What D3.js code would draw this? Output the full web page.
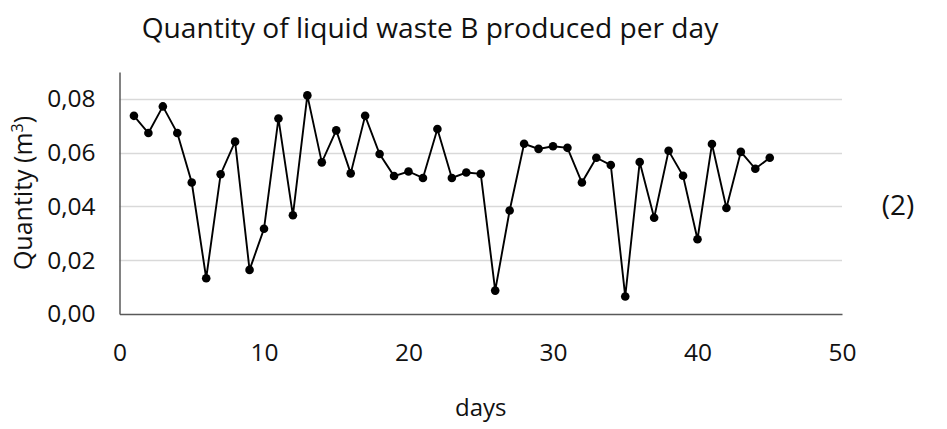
<!DOCTYPE html>
<html>
<head>
<meta charset="utf-8">
<script src="https://cdn.jsdelivr.net/npm/d3@7"></script>
<style>
    body { margin: 0; background: #fff; }
    text { font-family: "Open Sans", "Noto Sans", sans-serif; fill: #111; }
</style>
</head>
<body>
<svg id="chart" width="947" height="429"></svg>
<script>
// days 1..45
const days = d3.range(1, 46);
const quantities = [
    0.0737, 0.0673, 0.0772, 0.0673, 0.0489, 0.0133, 0.0520, 0.0641, 0.0164, 0.0317,
    0.0727, 0.0367, 0.0813, 0.0564, 0.0683, 0.0523, 0.0737, 0.0595, 0.0513, 0.0530,
    0.0506, 0.0688, 0.0506, 0.0526, 0.0521, 0.0087, 0.0385, 0.0633, 0.0614, 0.0624,
    0.0618, 0.0489, 0.0581, 0.0554, 0.0065, 0.0565, 0.0358, 0.0607, 0.0514, 0.0278,
    0.0632, 0.0394, 0.0603, 0.0540, 0.0581
];
const xTicks = [0, 10, 20, 30, 40, 50];
const yTicks = [0, 0.02, 0.04, 0.06, 0.08];

const svg = d3.select('#chart');
const plot = { left: 119.5, right: 842, top: 72, bottom: 314 };

const x = d3.scaleLinear().domain([0, 50]).range([plot.left, plot.right]);
const y = d3.scaleLinear().domain([0, 0.09]).range([plot.bottom, plot.top]);

// horizontal gridlines
svg.append('g')
    .selectAll('line')
    .data(yTicks.filter(d => d > 0))
    .enter()
    .append('line')
    .attr('x1', plot.left)
    .attr('x2', plot.right)
    .attr('y1', d => Math.round(y(d)) + 0.5)
    .attr('y2', d => Math.round(y(d)) + 0.5)
    .attr('stroke', '#d9d9d9')
    .attr('stroke-width', 1.3);

// axes
const xAxis = svg.append('g')
    .attr('transform', `translate(0,${plot.bottom})`)
    .call(d3.axisBottom(x).tickValues(xTicks).tickSize(0).tickPadding(30));
const yAxis = svg.append('g')
    .attr('transform', `translate(${plot.left},0)`)
    .call(d3.axisLeft(y).tickValues(yTicks).tickSize(0).tickPadding(24)
        .tickFormat(d => d3.format('.2f')(d).replace('.', ',')));

yAxis.select('.domain').attr('stroke', '#595959').attr('stroke-width', 1.5);
xAxis.select('.domain').attr('stroke', '#595959').attr('stroke-width', 1.5);
[xAxis, yAxis].forEach(g => g.selectAll('text')
    .style('font-family', '"Open Sans", sans-serif')
    .style('font-size', '24.5px')
    .attr('fill', '#111'));
xAxis.selectAll('text').attr('dy', '0.71em').attr('y', 30);

// line + markers
const line = d3.line()
    .x((d, i) => x(days[i]))
    .y(d => y(d));

svg.append('path')
    .datum(quantities)
    .attr('d', line)
    .attr('fill', 'none')
    .attr('stroke', '#000')
    .attr('stroke-width', 1.9);

svg.append('g')
    .selectAll('circle')
    .data(quantities)
    .enter()
    .append('circle')
    .attr('cx', (d, i) => x(days[i]))
    .attr('cy', d => y(d))
    .attr('r', 4.3)
    .attr('fill', '#000');

// title, fitted to the reference width
const title = svg.append('text')
    .attr('x', 430)
    .attr('y', 38)
    .attr('text-anchor', 'middle')
    .style('font-size', '24px')
    .text('Quantity of liquid waste B produced per day');
const tw = title.node().getComputedTextLength();
title.style('font-size', (24 * 577 / tw) + 'px');

// axis titles
svg.append('text')
    .attr('x', x(25))
    .attr('y', 416)
    .attr('text-anchor', 'middle')
    .style('font-size', '24px')
    .text('days');

const yLabel = svg.append('text')
    .attr('transform', 'translate(32,193) rotate(-90)')
    .attr('text-anchor', 'middle')
    .style('font-size', '25px');
yLabel.append('tspan').text('Quantity (m');
yLabel.append('tspan').attr('dy', -9).style('font-size', '16px').text('3');
yLabel.append('tspan').attr('dy', 9).text(')');

svg.append('text')
    .attr('x', 898)
    .attr('y', 215)
    .attr('text-anchor', 'middle')
    .style('font-size', '28px')
    .text('(2)');
</script>
</body>
</html>
